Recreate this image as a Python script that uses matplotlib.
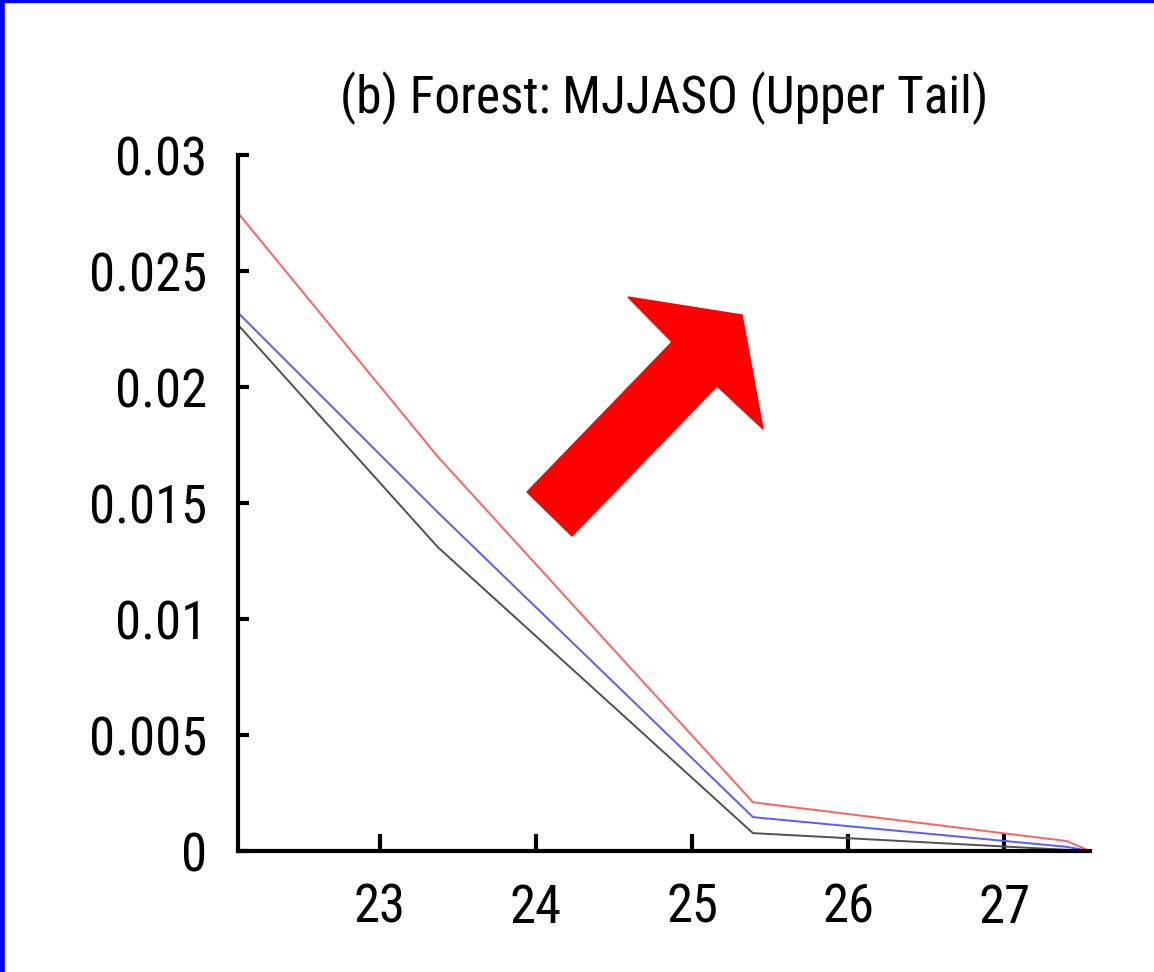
import matplotlib.pyplot as plt
from matplotlib.patches import Polygon

# data
x = [22.09, 23.37, 25.39, 27.4, 27.55]
red = [0.0275, 0.0170, 0.0021, 0.00043, 0.0]
blue = [0.0232, 0.0146, 0.00146, 0.00018, 0.0]
gray = [0.02268, 0.0131, 0.00077, 0.00005, 0.0]

xticks = [23, 24, 25, 26, 27]
yticks = [0, 0.005, 0.01, 0.015, 0.02, 0.025, 0.03]
yticklabels = ['0', '0.005', '0.01', '0.015', '0.02', '0.025', '0.03']

W, H = 1154, 972
plt.rcParams['font.family'] = ['Roboto Condensed', 'DejaVu Sans']

fig = plt.figure(figsize=(W / 100, H / 100), dpi=100)
ax = fig.add_axes([238 / W, 1 - 851 / H, (1090 - 238) / W, (851 - 155) / H])

ax.plot(x, gray, color='#505050', lw=1.4)
ax.plot(x, blue, color='#5a5aff', lw=1.4)
ax.plot(x, red, color='#ff6060', lw=1.4)

ax.set_xlim(22.09, 27.55)
ax.set_ylim(0, 0.03)
ax.set_xticks(xticks)
ax.set_yticks(yticks)
ax.set_yticklabels(yticklabels)
ax.tick_params(direction='in', width=3, labelsize=38, colors='black')
ax.tick_params(axis='x', length=12, pad=23)
ax.tick_params(axis='y', length=8, pad=22)
for s in ['top', 'right']:
    ax.spines[s].set_visible(False)
for s in ['left', 'bottom']:
    ax.spines[s].set_linewidth(3)

ax.set_title('(b) Forest: MJJASO (Upper Tail)', fontsize=37, pad=30)

# big red arrow (figure pixel outline, top-left origin)
arrow_px = [(527, 492), (572, 536), (717, 386), (763, 429),
            (742, 315), (628, 297), (672, 342)]
fig.patches.append(Polygon([(px / W, 1 - py / H) for px, py in arrow_px],
                           closed=True, color='red', transform=fig.transFigure,
                           figure=fig))

# blue frame on top and left edges
fig.add_artist(plt.Line2D([0, 1], [1 - 1 / H, 1 - 1 / H], color='blue', lw=3,
                          transform=fig.transFigure))
fig.add_artist(plt.Line2D([1.5 / W, 1.5 / W], [0, 1], color='blue', lw=4,
                          transform=fig.transFigure))

fig.savefig('out.png', dpi=100)
